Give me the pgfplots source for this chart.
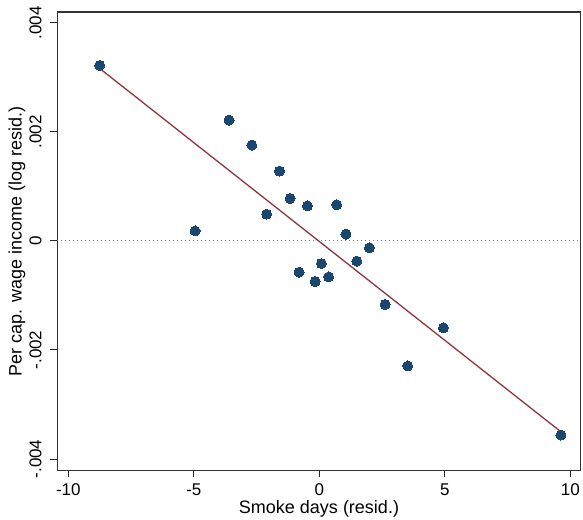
\documentclass[border=0pt]{standalone}
\usepackage{fontspec}
\setmainfont{Liberation Sans}
\usepackage{pgfplots}
\pgfplotsset{compat=1.18}
\definecolor{stnavy}{HTML}{1A476F}
\definecolor{stmaroon}{HTML}{90353B}

\begin{document}
\begin{tikzpicture}
\path[use as bounding box] (-57.3pt,-49pt) rectangle (525.7pt,470.3pt);
\begin{axis}[
  at={(0,0)}, anchor=south west, scale only axis,
  width=523.4pt, height=458.3pt,
  xmin=-10.44, xmax=10.41, ymin=-0.004207, ymax=0.004196,
  xtick={-10,-5,0,5,10}, xticklabels={-10,-5,0,5,10},
  ytick={-0.004,-0.002,0,0.002,0.004},
  yticklabels={-.004,-.002,0,.002,.004},
  xtick pos=bottom, ytick pos=left,
  scaled y ticks=false,
  tick align=outside, major tick length=7pt,
  tick style={black!85, line width=0.9pt},
  axis line style={black!80, line width=1.1pt},
  ticklabel style={font=\fontsize{17}{20}\selectfont},
  xticklabel style={anchor=base, inner sep=0pt},
  yticklabel style={rotate=90, anchor=south, inner sep=0pt},
  xticklabel shift=18pt, yticklabel shift=8.6pt,
  xlabel={Smoke days (resid.)},
  ylabel={Per cap. wage income (log resid.)},
  label style={font=\fontsize{18}{21}\selectfont, inner sep=0pt},
  xlabel style={at={(axis description cs:0.5,-0.0938)}, anchor=base},
  ylabel style={at={(axis description cs:-0.0608,0.5)}, anchor=south},
]
  % zero reference line
  \addplot[gray, dash pattern=on 1pt off 3pt, line width=0.9pt]
    coordinates {(-10.44,0) (10.41,0)};
  % fitted line
  \addplot[stmaroon, line width=1.3pt]
    coordinates {(-8.75,0.00316) (9.62,-0.00350)};
  % binned residuals
  \addplot[only marks, mark=*, mark size=5pt,
           mark options={fill=stnavy, draw=stnavy, line width=0pt}] coordinates {
    (-8.75,0.003218) (-4.95,0.000183) (-3.60,0.002215) (-2.69,0.001756)
    (-2.10,0.000490) (-1.59,0.001279) (-1.17,0.000778) (-0.81,-0.000574)
    (-0.48,0.000642) (-0.17,-0.000745) (0.08,-0.000415) (0.37,-0.000661)
    (0.69,0.000661) (1.06,0.000123) (1.49,-0.000372) (1.99,-0.000128)
    (2.62,-0.001167) (3.52,-0.002294) (4.94,-0.001596) (9.62,-0.003560)
  };
\end{axis}
\end{tikzpicture}
\end{document}
